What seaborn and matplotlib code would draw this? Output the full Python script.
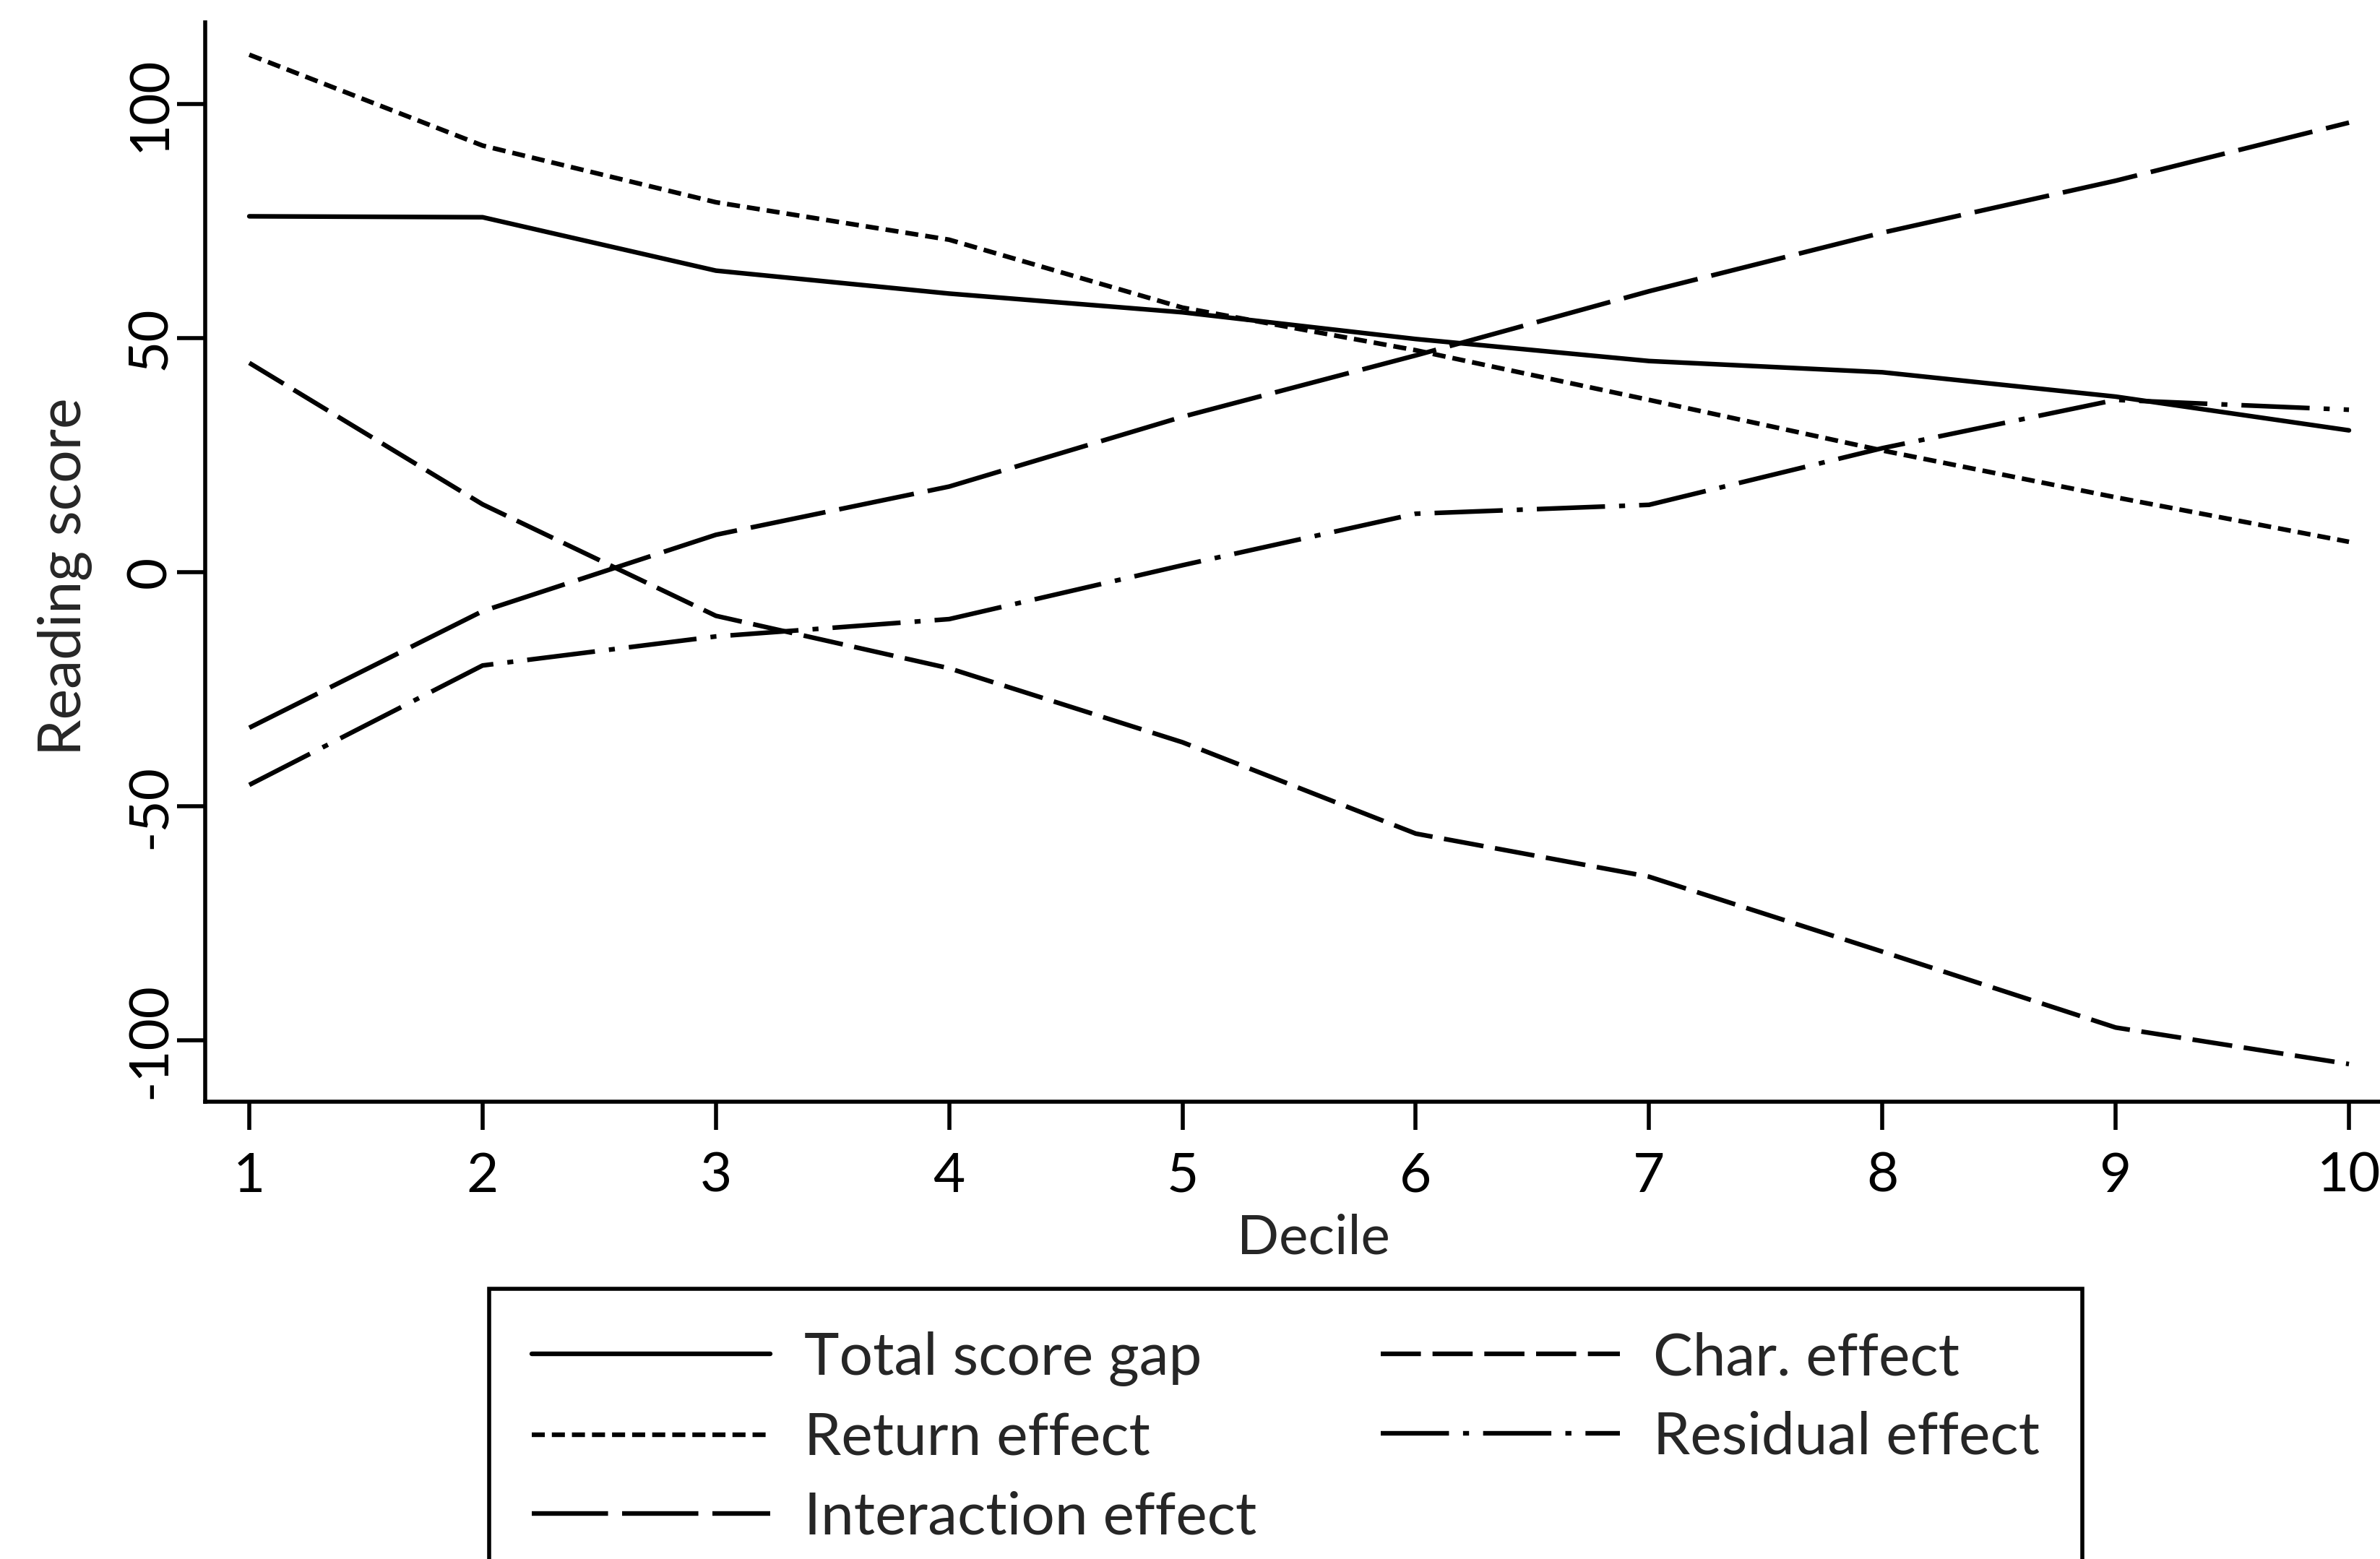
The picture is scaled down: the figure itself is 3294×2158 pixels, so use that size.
import matplotlib
matplotlib.use("Agg")
import matplotlib.pyplot as plt
from matplotlib.lines import Line2D
import pandas as pd
import seaborn as sns

# Decile-level decomposition of the reading score gap
deciles = [1, 2, 3, 4, 5, 6, 7, 8, 9, 10]
total_gap = [76.0, 75.8, 64.4, 59.5, 55.5, 49.8, 45.1, 42.7, 37.5, 30.3]
return_eff = [110.5, 91.1, 79.0, 71.0, 56.5, 47.4, 36.8, 26.0, 16.0, 6.5]
interaction_eff = [-33.2, -8.3, 8.0, 18.3, 33.2, 46.3, 60.0, 72.5, 83.6, 96.0]
char_eff = [44.7, 14.5, -9.3, -20.5, -36.3, -55.8, -65.0, -81.0, -97.2, -105.0]
residual_eff = [-45.4, -19.9, -13.7, -10.0, 1.5, 12.5, 14.4, 26.5, 36.8, 34.7]

series_names = ["Total score gap", "Return effect", "Interaction effect",
                "Char. effect", "Residual effect"]
series_values = [total_gap, return_eff, interaction_eff, char_eff, residual_eff]
y_ticks = [-100, -50, 0, 50, 100]

# dash patterns in points
dash_styles = {
    "Total score gap": "",
    "Return effect": (6.5, 3.5),
    "Interaction effect": (38, 7),
    "Char. effect": (20, 5.8),
    "Residual effect": (34, 7, 3, 7),
}

df = pd.concat(
    [pd.DataFrame({"Decile": deciles, "score": vals, "series": name})
     for name, vals in zip(series_names, series_values)],
    ignore_index=True,
)

sns.set_style("ticks")
plt.rcParams["font.family"] = ["Lato", "DejaVu Sans"]
plt.rcParams["lines.scale_dashes"] = False
plt.rcParams["lines.dash_capstyle"] = "butt"

W, H, DPI = 3294, 2158, 200
fig = plt.figure(figsize=(W / DPI, H / DPI), dpi=DPI)
fig.patch.set_facecolor("white")

ax_left, ax_right, ax_top, ax_bottom = 284, W, 31, 1524.5
ax = fig.add_axes([ax_left / W, (H - ax_bottom) / H,
                   (ax_right - ax_left) / W, (ax_bottom - ax_top) / H])

sns.lineplot(data=df, x="Decile", y="score", style="series",
             style_order=series_names, dashes=dash_styles,
             color="black", linewidth=2.3, legend=False, ax=ax)

ax.set_xlim(0.811, 10.133)
ax.set_ylim(-112.96, 117.4)
ax.set_xticks(deciles)
ax.set_yticks(y_ticks)
ax.set_xticklabels([str(d) for d in deciles])
ax.set_yticklabels([str(v) for v in y_ticks])

for side in ["top", "right"]:
    ax.spines[side].set_visible(False)
for side in ["left", "bottom"]:
    ax.spines[side].set_linewidth(2.0)
    ax.spines[side].set_color("black")

ax.tick_params(axis="both", direction="out", length=14, width=2.0,
               colors="black", labelsize=27.5)
ax.tick_params(axis="x", pad=11)
ax.tick_params(axis="y", pad=1, labelrotation=90)
for lbl in ax.get_yticklabels():
    lbl.set_verticalalignment("center")

ax.set_xlabel("Decile", fontsize=27.5)
ax.set_ylabel("Reading score", fontsize=29)
ax.xaxis.set_label_coords((1818 - ax_left) / (ax_right - ax_left),
                          (ax_bottom - 1680) / (ax_bottom - ax_top))
ax.yaxis.set_label_coords((128 - ax_left) / (ax_right - ax_left),
                          (ax_bottom - 798) / (ax_bottom - ax_top))

handles = [Line2D([0], [0], color="black", linewidth=2.3,
                  linestyle="-" if dash_styles[n] == "" else (0, dash_styles[n]))
           for n in series_names]
leg = fig.legend(handles, series_names, loc="upper left",
                 bbox_to_anchor=(677 / W, 1 - 1784 / H), ncol=2,
                 frameon=True, fancybox=False, framealpha=1,
                 edgecolor="black", fontsize=29.5, handlelength=4.03,
                 handletextpad=0.57, columnspacing=2.1, labelspacing=0.43,
                 borderpad=0.72, borderaxespad=0)
leg.get_frame().set_linewidth(2.0)

fig.savefig("out.png", dpi=DPI)
